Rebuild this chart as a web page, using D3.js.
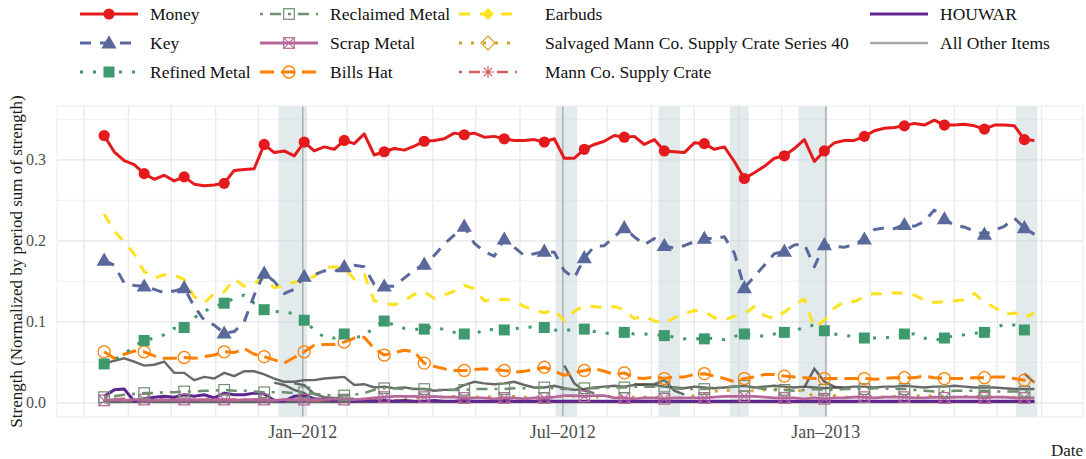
<!DOCTYPE html>
<html>
<head>
<meta charset="utf-8">
<script src="https://cdn.jsdelivr.net/npm/d3@7"></script>
<style>
  body { margin: 0; background: #fff; }
</style>
</head>
<body>
<svg id="chart" width="1086" height="459" font-family="Liberation Serif, Times New Roman, DejaVu Serif, serif"></svg>
<script>
// ---- data: weekly strength shares, Mondays from 2011-08-15 ----
const weekStart = "2011-08-15";
const weekEnd = "2013-06-01";

const money = [0.330,0.310,0.299,0.294,0.283,0.276,0.281,0.274,0.279,0.270,0.268,0.269,0.271,0.287,0.288,0.289,0.319,0.309,0.311,0.305,
  0.322,0.311,0.316,0.313,0.324,0.320,0.332,0.306,0.310,0.314,0.312,0.317,0.323,0.324,0.326,0.333,0.331,0.333,0.328,0.329,
  0.326,0.324,0.324,0.325,0.322,0.326,0.302,0.302,0.313,0.319,0.323,0.330,0.328,0.329,0.319,0.325,0.311,0.310,0.309,0.321,
  0.320,0.313,0.316,0.298,0.277,0.284,0.292,0.302,0.305,0.314,0.325,0.298,0.311,0.321,0.324,0.324,0.329,0.336,0.339,0.340,
  0.342,0.345,0.343,0.349,0.343,0.343,0.344,0.342,0.338,0.343,0.343,0.342,0.325,0.324];

const key = [0.176,0.170,0.148,0.145,0.144,0.140,0.136,0.138,0.142,0.119,0.102,0.096,0.086,0.088,0.100,0.133,0.160,0.150,0.135,0.140,
  0.156,0.158,0.163,0.162,0.168,0.170,0.168,0.146,0.144,0.144,0.154,0.164,0.171,0.182,0.196,0.207,0.218,0.197,0.187,0.181,
  0.202,0.192,0.182,0.184,0.187,0.186,0.163,0.154,0.179,0.193,0.194,0.205,0.216,0.205,0.195,0.203,0.194,0.191,0.194,0.199,
  0.203,0.203,0.205,0.185,0.142,0.156,0.170,0.184,0.187,0.195,0.196,0.168,0.195,0.193,0.192,0.196,0.202,0.214,0.216,0.215,
  0.220,0.218,0.224,0.238,0.227,0.219,0.217,0.212,0.208,0.213,0.218,0.228,0.216,0.208];

const refinedMetal = [0.048,0.053,0.060,0.070,0.077,0.080,0.084,0.092,0.093,0.105,0.113,0.119,0.123,0.129,0.133,0.123,0.115,0.113,0.112,0.110,
  0.102,0.090,0.081,0.080,0.085,0.081,0.082,0.094,0.101,0.096,0.092,0.091,0.091,0.095,0.090,0.087,0.085,0.084,0.091,0.090,
  0.090,0.091,0.094,0.093,0.093,0.090,0.089,0.091,0.091,0.088,0.086,0.086,0.087,0.085,0.085,0.084,0.083,0.081,0.079,0.079,
  0.079,0.080,0.078,0.082,0.085,0.084,0.082,0.085,0.087,0.088,0.094,0.096,0.089,0.085,0.083,0.082,0.080,0.080,0.080,0.082,
  0.085,0.085,0.080,0.077,0.080,0.083,0.084,0.086,0.087,0.092,0.097,0.096,0.090,0.090];

const reclaimedMetal = [0.007,0.008,0.010,0.011,0.012,0.012,0.013,0.013,0.014,0.014,0.015,0.015,0.016,0.015,0.015,0.014,0.013,0.013,0.013,0.012,
  0.013,0.011,0.010,0.009,0.009,0.010,0.012,0.016,0.018,0.018,0.017,0.017,0.017,0.016,0.016,0.016,0.016,0.017,0.017,0.017,
  0.017,0.018,0.018,0.019,0.019,0.018,0.017,0.017,0.018,0.018,0.019,0.019,0.019,0.020,0.020,0.020,0.020,0.018,0.017,0.017,
  0.017,0.018,0.019,0.020,0.021,0.019,0.017,0.016,0.016,0.015,0.016,0.017,0.016,0.016,0.017,0.017,0.017,0.018,0.018,0.017,
  0.017,0.016,0.015,0.014,0.014,0.015,0.015,0.015,0.015,0.014,0.014,0.014,0.014,0.013];

const scrapMetal = [0.003,0.004,0.003,0.004,0.004,0.003,0.004,0.003,0.004,0.004,0.003,0.004,0.004,0.003,0.004,0.004,0.004,0.003,0.004,0.004,
  0.004,0.004,0.004,0.005,0.004,0.004,0.005,0.006,0.007,0.008,0.008,0.008,0.007,0.008,0.007,0.007,0.006,0.006,0.006,0.005,
  0.006,0.006,0.005,0.006,0.006,0.007,0.009,0.009,0.008,0.009,0.009,0.006,0.006,0.005,0.006,0.006,0.005,0.006,0.006,0.006,
  0.006,0.007,0.008,0.008,0.008,0.008,0.007,0.006,0.006,0.006,0.005,0.006,0.005,0.006,0.006,0.007,0.007,0.006,0.007,0.007,
  0.007,0.006,0.006,0.007,0.006,0.007,0.007,0.007,0.006,0.007,0.007,0.006,0.006,0.006];

const billsHat = [0.063,0.055,0.060,0.064,0.063,0.058,0.055,0.055,0.056,0.055,0.057,0.059,0.063,0.062,0.067,0.060,0.057,0.053,0.049,0.056,
  0.063,0.071,0.072,0.072,0.075,0.080,0.081,0.067,0.059,0.062,0.065,0.063,0.049,0.045,0.042,0.040,0.040,0.041,0.042,0.041,
  0.040,0.038,0.039,0.041,0.044,0.039,0.034,0.037,0.040,0.042,0.039,0.035,0.037,0.031,0.030,0.032,0.030,0.032,0.032,0.035,
  0.036,0.033,0.030,0.026,0.030,0.032,0.035,0.035,0.033,0.032,0.031,0.030,0.030,0.030,0.030,0.030,0.030,0.029,0.030,0.031,
  0.031,0.031,0.033,0.031,0.030,0.030,0.030,0.031,0.031,0.032,0.032,0.030,0.028,0.026];

const earbuds = [0.233,0.212,0.199,0.184,0.162,0.154,0.158,0.158,0.152,0.131,0.123,0.135,0.137,0.153,0.144,0.147,0.155,0.142,0.145,0.149,
  0.152,0.156,0.167,0.168,0.166,0.153,0.159,0.126,0.123,0.121,0.126,0.134,0.137,0.129,0.133,0.138,0.145,0.141,0.126,0.127,
  0.128,0.126,0.119,0.115,0.111,0.115,0.101,0.113,0.120,0.119,0.117,0.119,0.115,0.104,0.107,0.101,0.098,0.105,0.110,0.114,
  0.113,0.105,0.102,0.107,0.110,0.119,0.108,0.104,0.112,0.121,0.128,0.093,0.102,0.117,0.125,0.125,0.131,0.135,0.134,0.136,
  0.135,0.133,0.127,0.124,0.125,0.126,0.127,0.135,0.124,0.118,0.109,0.111,0.105,0.111];

const salvagedCrate40 = [null,null,null,null,null,null,null,null,null,null,null,null,null,null,null,null,null,null,null,null,
  null,null,null,null,null,null,null,null,null,null,0.005,0.006,0.007,0.008,0.007,0.008,0.007,0.007,0.008,0.007,
  0.008,0.008,0.007,0.007,0.007,0.008,0.008,0.008,0.008,0.007,0.007,0.009,0.008,0.007,0.007,0.007,0.006,0.006,0.006,0.009,
  0.011,0.014,0.016,0.014,0.014,0.015,0.016,0.017,0.018,0.016,0.014,0.008,0.010,0.009,0.007,0.007,0.008,0.008,0.007,0.008,
  0.009,0.009,0.008,0.009,0.008,0.007,0.008,0.008,0.008,0.007,0.007,0.007,0.007,0.007];

const mannCoCrate = [0.004,0.004,0.005,0.004,0.004,0.004,0.005,0.004,0.004,0.004,0.004,0.005,0.004,0.004,0.004,0.004,0.005,0.004,0.004,0.004,
  0.004,0.003,0.003,0.003,0.003,0.003,0.003,0.003,0.003,0.003,0.002,0.002,0.002,0.002,0.002,0.002,0.002,0.002,0.002,0.002,
  0.002,0.002,0.002,0.002,0.002,0.002,0.002,0.002,0.002,0.002,0.002,0.002,0.002,0.002,0.002,0.002,0.002,0.002,0.002,0.002,
  0.002,0.002,0.002,0.002,0.002,0.002,0.002,0.002,0.002,0.002,0.002,0.002,0.002,0.002,0.002,0.002,0.002,0.002,0.002,0.002,
  0.002,0.002,0.002,0.002,0.002,0.002,0.002,0.002,0.002,0.002,0.002,0.002,0.002,0.002];

const houwar = [0.008,0.016,0.017,0.002,0.005,0.007,0.008,0.007,0.010,0.008,0.010,0.006,0.012,0.010,0.010,0.012,0.011,0.003,0.002,0.008,
  0.009,0.005,0.004,0.003,0.003,0.002,0.003,0.002,0.003,0.002,0.003,0.002,0.002,0.003,0.002,0.002,0.003,0.002,0.002,0.002,
  0.003,0.002,0.002,0.002,0.003,0.002,0.002,0.002,0.002,0.002,0.002,0.002,0.002,0.002,0.002,0.002,0.002,0.002,0.002,0.002,
  0.002,0.002,0.002,0.002,0.002,0.002,0.002,0.002,0.002,0.002,0.002,0.002,0.002,0.002,0.002,0.002,0.002,0.002,0.002,0.002,
  0.002,0.002,0.002,0.002,0.002,0.002,0.002,0.002,0.002,0.002,0.002,0.002,0.002,0.002];

// remaining items, each a separate grey line (null = not in the top set that week)
const N = null;
const otherA = [0.048,0.052,0.055,0.051,0.046,0.047,0.051,0.037,0.037,0.028,0.032,0.030,0.037,0.033,0.039,0.039,0.035,0.030,0.026,0.026,
  0.028,0.028,0.030,0.031,0.032,0.022,0.023,0.019,0.020,0.018,0.019,0.017,0.017,0.015,0.016,0.016,0.022,0.026,0.024,0.023,
  0.024,0.026,0.022,0.019,0.019,0.021,0.018,0.016,0.017,0.019,0.020,0.021,0.020,0.022,0.023,0.022,0.020,0.019,0.018,0.020,
  0.019,0.018,0.019,0.020,0.021,0.019,0.020,0.021,0.020,0.019,0.020,0.019,0.018,0.019,0.019,0.020,0.020,0.019,0.020,0.020,
  0.021,0.020,0.019,0.020,0.020,0.021,0.020,0.019,0.019,0.019,0.018,0.017,0.017,0.017];
const otherB = [N,N,N,N,N,N,N,N,N,N,N,N,N,N,N,N,N,0.025,0.022,0.016,0.012,0.004,0.003,0.002,0.002];
const otherC = [N,N,N,N,N,N,N,N,N,N,N,N,N,N,N,N,N,N,N,0.024,0.022,0.011,0.007,0.006,0.005,0.005];
const otherD = [N,N,N,N,N,N,N,N,N,N,N,N,N,N,N,N,N,N,N,N,N,N,N,N,N,N,N,N,N,N,N,N,N,N,N,N,N,N,N,N,
  N,N,N,N,N,N,0.046,0.024,0.015,0.012];
const otherE = [N,N,N,N,N,N,N,N,N,N,N,N,N,N,N,N,N,N,N,N,N,N,N,N,N,N,N,N,N,N,N,N,N,N,N,N,N,N,N,N,
  N,N,N,N,N,N,N,N,N,N,N,N,N,0.023,0.022,0.023,0.028,0.015,0.010];
const otherF = [N,N,N,N,N,N,N,N,N,N,N,N,N,N,N,N,N,N,N,N,N,N,N,N,N,N,N,N,N,N,N,N,N,N,N,N,N,N,N,N,
  N,N,N,N,N,N,N,N,N,N,N,N,N,N,N,N,N,N,N,N,N,N,N,N,N,N,N,N,N,N,0.019,0.042,0.026,0.020,0.018];
const otherG = [N,N,N,N,N,N,N,N,N,N,N,N,N,N,N,N,N,N,N,N,N,N,N,N,N,N,N,N,N,N,N,N,N,N,N,N,N,N,N,N,
  N,N,N,N,N,N,N,N,N,N,N,N,N,N,N,N,N,N,N,N,N,N,N,N,N,N,N,N,N,N,N,N,N,N,N,N,N,N,N,N,
  N,N,N,N,N,N,N,N,N,N,N,N,0.036,0.025];
const otherLow1 = [0.001,0.001,0.001,0.001,0.001,0.001,0.001,0.001,0.001,0.001,0.001,0.001,0.001,0.001,0.001,0.001,0.001,0.001,0.001,0.001,
  0.001,0.001,0.001,0.001,0.001,0.001,0.001,0.001,0.001,0.001,0.001,0.001,0.001,0.001,0.001,0.001,0.001,0.001,0.001,0.001,
  0.001,0.001,0.001,0.001,0.001,0.001,0.001,0.001,0.001,0.001,0.001,0.001,0.001,0.001,0.001,0.001,0.001,0.001,0.001,0.001,
  0.001,0.001,0.001,0.001,0.001,0.001,0.001,0.001,0.001,0.001,0.001,0.001,0.001,0.001,0.001,0.001,0.001,0.001,0.001,0.001,
  0.001,0.001,0.001,0.001,0.001,0.001,0.001,0.001,0.001,0.001,0.001,0.001,0.001,0.001];
const otherItems = [otherLow1, otherA, otherB, otherC, otherD, otherE, otherF, otherG];

// periods highlighted on the timeline
const shadedPeriods = [["2011-12-15","2012-01-04"],["2012-06-26","2012-07-11"],["2012-09-06","2012-09-21"],
  ["2012-10-26","2012-11-08"],["2012-12-13","2013-01-02"],["2013-05-14","2013-05-29"]];
const dateTicks = ["2012-01-01","2012-07-01","2013-01-01"];
const yMajor = [0, 0.1, 0.2, 0.3];
const yMinor = [0.05, 0.15, 0.25, 0.35];

// ---- layout ----
const FONT = "Liberation Serif";
const svg = d3.select("#chart");
const P = { l: 57, r: 1083, t: 106, b: 417 };
const parse = d3.timeParse("%Y-%m-%d");
const dates = d3.timeMonday.range(parse(weekStart), parse(weekEnd));

const x = d3.scaleTime().domain([parse("2011-07-13"), parse("2013-06-30")]).range([P.l, P.r]);
const y = d3.scaleLinear().domain([-0.0175, 0.3665]).range([P.b, P.t]);

svg.append("defs").append("clipPath").attr("id", "panel-clip")
  .append("rect").attr("x", P.l).attr("y", P.t).attr("width", P.r - P.l).attr("height", P.b - P.t);

// grid
const grid = svg.append("g");
grid.selectAll("line.vminor").data(d3.timeMonth.range(x.domain()[0], x.domain()[1]))
  .join("line").attr("x1", d => x(d)).attr("x2", d => x(d)).attr("y1", P.t).attr("y2", P.b)
  .attr("stroke", "#ebebeb").attr("stroke-width", 1.4);
grid.selectAll("line.hminor").data(yMinor).join("line")
  .attr("x1", P.l).attr("x2", P.r).attr("y1", d => y(d)).attr("y2", d => y(d))
  .attr("stroke", "#f3f3f3").attr("stroke-width", 1.2);
grid.selectAll("line.hmajor").data(yMajor).join("line")
  .attr("x1", P.l).attr("x2", P.r).attr("y1", d => y(d)).attr("y2", d => y(d))
  .attr("stroke", "#e6e6e6").attr("stroke-width", 1.4);

// highlighted periods
svg.append("g").selectAll("rect").data(shadedPeriods).join("rect")
  .attr("x", d => x(parse(d[0]))).attr("width", d => x(parse(d[1])) - x(parse(d[0])))
  .attr("y", P.t).attr("height", P.b - P.t)
  .attr("fill", "#c6d6da").attr("fill-opacity", 0.5);

svg.append("g").selectAll("line").data(dateTicks).join("line")
  .attr("x1", d => x(parse(d))).attr("x2", d => x(parse(d))).attr("y1", P.t).attr("y2", P.b)
  .attr("stroke", "#a3aaab").attr("stroke-width", 1.3);

svg.append("rect").attr("x", P.l).attr("y", P.t).attr("width", P.r - P.l).attr("height", P.b - P.t)
  .attr("fill", "none").attr("stroke", "#ececec").attr("stroke-width", 1);

// ---- marker shapes ----
const shapes = {
  circle: (g, c) => g.append("circle").attr("r", 5.6).attr("fill", c),
  triangle: (g, c) => g.append("path").attr("d", d3.symbol(d3.symbolTriangle, 100)()).attr("fill", c).attr("transform", "translate(0,1)"),
  square: (g, c) => g.append("rect").attr("x", -5.5).attr("y", -5.5).attr("width", 11).attr("height", 11).attr("fill", c),
  openSquare: (g, c) => g.append("rect").attr("x", -5.3).attr("y", -5.3).attr("width", 10.6).attr("height", 10.6)
      .attr("fill", "none").attr("stroke", c).attr("stroke-width", 1.2),
  boxX: (g, c) => { g.append("rect").attr("x", -5.3).attr("y", -5.3).attr("width", 10.6).attr("height", 10.6)
      .attr("fill", "none").attr("stroke", c).attr("stroke-width", 1.2);
      g.append("path").attr("d", "M-5.3,-5.3L5.3,5.3M5.3,-5.3L-5.3,5.3").attr("stroke", c).attr("stroke-width", 1.1); },
  openCircle: (g, c) => g.append("circle").attr("r", 6).attr("fill", "none").attr("stroke", c).attr("stroke-width", 1.3),
  diamond: (g, c) => g.append("path").attr("d", "M0,-6L6,0L0,6L-6,0Z").attr("fill", c),
  openDiamond: (g, c) => g.append("path").attr("d", "M0,-7L7,0L0,7L-7,0Z").attr("fill", "none").attr("stroke", c).attr("stroke-width", 1.2),
  asterisk: (g, c) => g.append("path").attr("d", "M-6,0H6M0,-6V6M-4.3,-4.3L4.3,4.3M4.3,-4.3L-4.3,4.3").attr("stroke", c).attr("stroke-width", 1.2)
};

// ---- series ----
const series = [
  { name: "Money", values: money, color: "#e41a1c", dash: null, width: 3, shape: "circle", plotMarks: true },
  { name: "Key", values: key, color: "#5a689c", dash: "11,9", width: 3, shape: "triangle", plotMarks: true },
  { name: "Refined Metal", values: refinedMetal, color: "#3e9a6e", dash: "3,10", width: 3, shape: "square", plotMarks: true },
  { name: "Reclaimed Metal", values: reclaimedMetal, color: "#6f8f6f", dash: "3,7,11,7", width: 2.6, shape: "openSquare", plotMarks: true },
  { name: "Scrap Metal", values: scrapMetal, color: "#b5669a", dash: null, width: 2.8, shape: "boxX", plotMarks: true },
  { name: "Bills Hat", values: billsHat, color: "#ff7f00", dash: "14,7", width: 3, shape: "openCircle", plotMarks: true },
  { name: "Earbuds", values: earbuds, color: "#fde21f", dash: "11,10", width: 3, shape: "diamond", plotMarks: false },
  { name: "Salvaged Mann Co. Supply Crate Series 40", values: salvagedCrate40, color: "#d4a22a", dash: "3,9", width: 2.8, shape: "openDiamond", plotMarks: false },
  { name: "Mann Co. Supply Crate", values: mannCoCrate, color: "#d0605e", dash: "3,7,11,7", width: 2.6, shape: "asterisk", plotMarks: false },
  { name: "HOUWAR", values: houwar, color: "#5c2590", dash: null, width: 3, shape: null, plotMarks: false },
  { name: "All Other Items", values: null, color: "#a8a8a8", dash: null, width: 2.6, shape: null, plotMarks: false }
];

const line = d3.line().defined(d => d != null)
  .x((d, i) => x(dates[i])).y(d => y(d));

const plot = svg.append("g").attr("clip-path", "url(#panel-clip)");

// remaining items first, at the back
plot.append("g").selectAll("path").data(otherItems).join("path")
  .attr("d", line).attr("fill", "none")
  .attr("stroke", "#4d4d4d").attr("stroke-opacity", 0.85).attr("stroke-width", 2.4);

const drawOrder = ["Mann Co. Supply Crate", "Salvaged Mann Co. Supply Crate Series 40", "HOUWAR", "Scrap Metal",
  "Reclaimed Metal", "Bills Hat", "Refined Metal", "Earbuds", "Key", "Money"];
drawOrder.forEach(nm => {
  const s = series.find(d => d.name === nm);
  const g = plot.append("g");
  g.append("path").attr("d", line(s.values)).attr("fill", "none")
    .attr("stroke", s.color).attr("stroke-width", s.width)
    .attr("stroke-dasharray", s.dash).attr("stroke-linejoin", "round");
  if (s.plotMarks) {
    s.values.forEach((v, i) => {
      if (i % 4 !== 0 || v == null) return;
      const m = g.append("g").attr("transform", `translate(${x(dates[i])},${y(v)})`);
      shapes[s.shape](m, s.color);
    });
  }
});

// ---- axes ----
const yAxis = svg.append("g");
yAxis.selectAll("text").data(yMajor).join("text")
  .attr("x", 46).attr("y", d => y(d)).attr("dy", "0.35em").attr("text-anchor", "end")
  .attr("font-family", FONT).attr("font-size", 16).attr("fill", "#4d4d4d").text(d3.format(".1f"));

const xAxis = svg.append("g");
xAxis.selectAll("text").data(dateTicks).join("text")
  .attr("x", d => x(parse(d))).attr("y", 438).attr("text-anchor", "middle")
  .attr("font-family", FONT).attr("font-size", 18).attr("fill", "#4d4d4d").text(d => d3.timeFormat("%b–%Y")(parse(d)));

svg.append("text").attr("transform", `translate(22,${(P.t + P.b) / 2}) rotate(-90)`)
  .attr("text-anchor", "middle").attr("font-family", FONT).attr("font-size", 17).attr("fill", "#1a1a1a")
  .text("Strength (Normalized by period sum of strength)");

svg.append("text").attr("x", P.r).attr("y", 456).attr("text-anchor", "end")
  .attr("font-family", FONT).attr("font-size", 17).attr("fill", "#1a1a1a").text("Date");

// ---- legend (column-major, 3 rows) ----
const colX = [80, 260, 459, 870];
const colTextX = [150, 330, 545, 940];
const rowY = [14, 43, 72];
const keyW = 58;
const legend = svg.append("g");
series.forEach((s, i) => {
  const col = Math.floor(i / 3), row = i % 3;
  const g = legend.append("g").attr("transform", `translate(0,${rowY[row]})`);
  g.append("line").attr("x1", colX[col]).attr("x2", colX[col] + keyW).attr("y1", 0).attr("y2", 0)
    .attr("stroke", s.color).attr("stroke-width", s.width).attr("stroke-dasharray", s.dash);
  if (s.shape) shapes[s.shape](g.append("g").attr("transform", `translate(${colX[col] + keyW / 2},0)`), s.color);
  g.append("text").attr("x", colTextX[col]).attr("y", 0).attr("dy", "0.35em")
    .attr("font-family", FONT).attr("font-size", 17.5).attr("fill", "#111").text(s.name);
});
</script>
</body>
</html>
